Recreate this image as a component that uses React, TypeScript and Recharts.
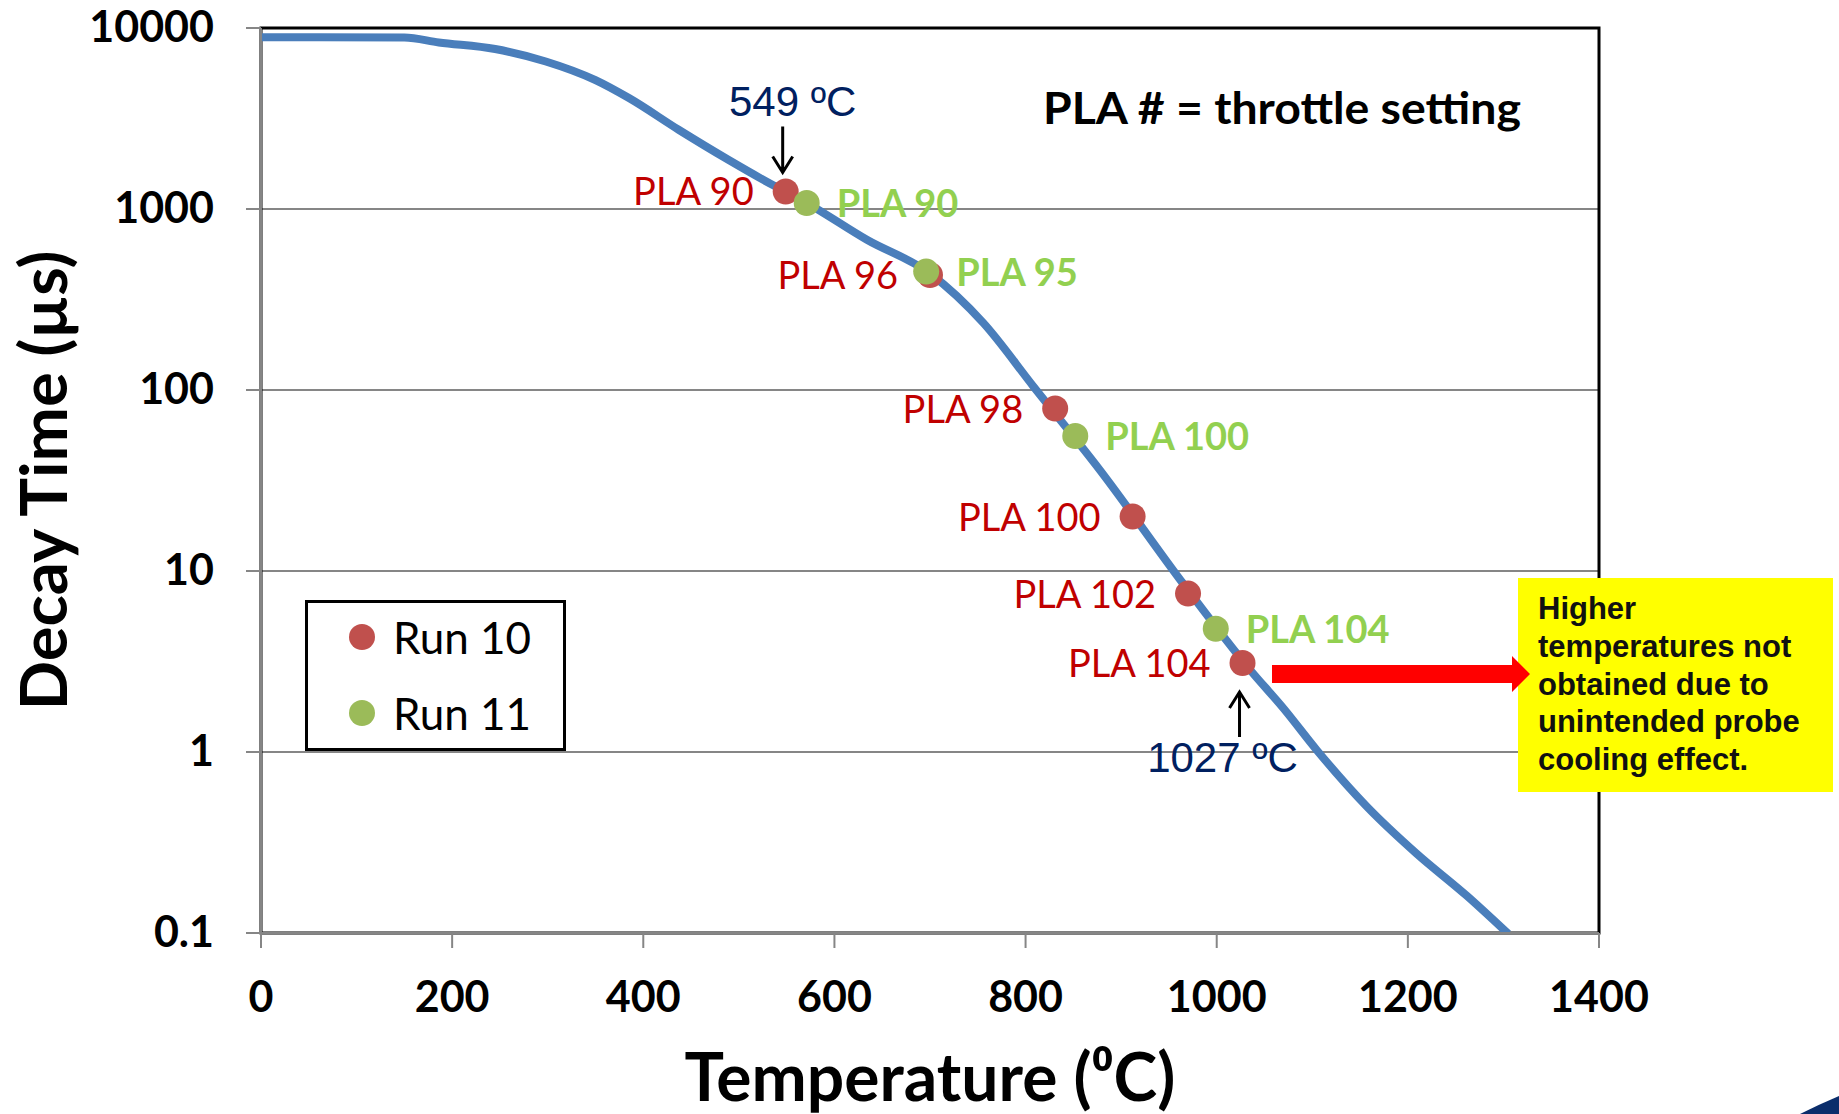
import {
  ComposedChart,
  Line,
  Scatter,
  XAxis,
  YAxis,
  CartesianGrid,
  ReferenceArea,
  ReferenceDot,
} from 'recharts';

// calibration curve
const curveTemps = [0, 150, 186, 245, 298, 350, 385, 437, 489, 535, 571, 634, 700, 756, 808, 878, 965, 1035, 1070, 1105, 1157, 1209, 1262, 1305];
const curveDecay = [8900, 8850, 8320, 7650, 6530, 5150, 4100, 2740, 1870, 1360, 1080, 676, 440, 234, 105, 36, 8.5, 2.84, 1.74, 1.02, 0.5, 0.275, 0.16, 0.099];

const run10Temps = [549, 700, 831, 912, 970, 1027];
const run10Decay = [1250, 432, 79, 20, 7.5, 3.1];
const run10Labels = ['PLA 90', 'PLA 96', 'PLA 98', 'PLA 100', 'PLA 102', 'PLA 104'];

const run11Temps = [571, 696, 852, 999];
const run11Decay = [1080, 451, 55.7, 4.8];
const run11Labels = ['PLA 90', 'PLA 95', 'PLA 100', 'PLA 104'];

const xTicks = [0, 200, 400, 600, 800, 1000, 1200, 1400];
const yTicks = [0.1, 1, 10, 100, 1000, 10000];

const legendNames = ['Run 10', 'Run 11'];
const noteLines = ['Higher', 'temperatures not', 'obtained due to', 'unintended probe', 'cooling effect.'];

const curve = curveTemps.map((t, i) => ({ t, v: curveDecay[i] }));
const run10 = run10Temps.map((t, i) => ({ t, v: run10Decay[i], label: run10Labels[i] }));
const run11 = run11Temps.map((t, i) => ({ t, v: run11Decay[i], label: run11Labels[i] }));

const RED = '#C0504D';
const GREEN = '#9BBB59';
const NAVY = '#002060';
const GRID = '#868686';

const RedDot = (props: any) => {
  const { cx, cy, payload } = props;
  return (
    <g>
      <circle cx={cx} cy={cy} r={13} fill={RED} />
      <text x={cx - 32} y={cy + 14} textAnchor="end" fontFamily="Lato" fontSize={38} fill="#C00000">
        {payload.label}
      </text>
    </g>
  );
};

const GreenDot = (props: any) => {
  const { cx, cy, payload } = props;
  return (
    <g>
      <circle cx={cx} cy={cy} r={13} fill={GREEN} />
      <text x={cx + 30} y={cy + 14} fontFamily="Lato" fontWeight="bold" fontSize={38} fill="#92D050">
        {payload.label}
      </text>
    </g>
  );
};

// "549 oC" above the first point, arrow pointing down
const NoteAbove = (props: any) => {
  const { cx, cy } = props;
  return (
    <g>
      <text x={cx + 7} y={cy - 75} textAnchor="middle" fontFamily="Liberation Sans" fontSize={42} fill={NAVY}>
        549 ºC
      </text>
      <path d={`M${cx - 3},${cy - 65} L${cx - 3},${cy - 19} M${cx - 13},${cy - 35} L${cx - 3},${cy - 19} L${cx + 7},${cy - 35}`} stroke="#000" strokeWidth={3} fill="none" />
    </g>
  );
};

// "1027 oC" below the last point, arrow pointing up
const NoteBelow = (props: any) => {
  const { cx, cy } = props;
  return (
    <g>
      <text x={cx - 20} y={cy + 109} textAnchor="middle" fontFamily="Liberation Sans" fontSize={42} fill={NAVY}>
        1027 ºC
      </text>
      <path d={`M${cx - 3},${cy + 74} L${cx - 3},${cy + 29} M${cx - 13},${cy + 45} L${cx - 3},${cy + 29} L${cx + 7},${cy + 45}`} stroke="#000" strokeWidth={3} fill="none" />
    </g>
  );
};

const XTick = (props: any) => {
  const { x, payload } = props;
  return (
    <text x={x} y={1012} textAnchor="middle" fontFamily="Lato" fontWeight="bold" fontSize={43} fill="#000">
      {payload.value}
    </text>
  );
};

const YTick = (props: any) => {
  const { y, payload } = props;
  return (
    <text x={214} y={y + 14} textAnchor="end" fontFamily="Lato" fontWeight="bold" fontSize={43} fill="#000">
      {payload.value}
    </text>
  );
};

const XTitle = (props: any) => {
  const { viewBox } = props;
  return (
    <text x={viewBox.x + viewBox.width / 2} y={1101} textAnchor="middle" fontFamily="Lato" fontWeight="bold" fontSize={66} fill="#000">
      Temperature (⁰C)
    </text>
  );
};

const YTitle = (props: any) => {
  const { viewBox } = props;
  const cy = viewBox.y + viewBox.height / 2;
  return (
    <text x={42} y={cy} transform={`rotate(-90 42 ${cy})`} textAnchor="middle" dominantBaseline="central" fontFamily="Lato" fontWeight="bold" fontSize={65} fill="#000">
      Decay Time (µs)
    </text>
  );
};

export default function App() {
  return (
    <div style={{ position: 'absolute', left: 0, top: 0, width: 1839, height: 1114, background: '#fff' }}>
      <ComposedChart width={1839} height={1114} margin={{ top: 28, right: 240, bottom: 0, left: 0 }}>
        <CartesianGrid horizontal vertical={false} stroke={GRID} strokeWidth={2} />
        <XAxis
          type="number"
          dataKey="t"
          domain={[0, 1400]}
          ticks={xTicks}
          height={181}
          tickSize={15}
          tick={<XTick />}
          tickLine={{ stroke: GRID, strokeWidth: 2 }}
          axisLine={{ stroke: GRID, strokeWidth: 2 }}
          label={<XTitle />}
          allowDataOverflow
        />
        <YAxis
          type="number"
          scale="log"
          domain={[0.1, 10000]}
          ticks={yTicks}
          width={261}
          tickSize={15}
          tick={<YTick />}
          tickLine={{ stroke: GRID, strokeWidth: 2 }}
          axisLine={{ stroke: GRID, strokeWidth: 2 }}
          label={<YTitle />}
          allowDataOverflow
        />
        <ReferenceArea x1={0} x2={1400} y1={0.1} y2={10000} fill="none" stroke="#000" strokeWidth={3} ifOverflow="visible" />
        <Line data={curve} dataKey="v" type="monotone" stroke="#4A7EBB" strokeWidth={8} dot={false} isAnimationActive={false} />
        <Scatter data={run10} dataKey="v" name="Run 10" fill={RED} shape={<RedDot />} isAnimationActive={false} />
        <Scatter data={run11} dataKey="v" name="Run 11" fill={GREEN} shape={<GreenDot />} isAnimationActive={false} />
        <ReferenceDot x={run10Temps[0]} y={run10Decay[0]} r={0} shape={<NoteAbove />} ifOverflow="visible" />
        <ReferenceDot x={run10Temps[5]} y={run10Decay[5]} r={0} shape={<NoteBelow />} ifOverflow="visible" />
      </ComposedChart>

      {/* legend box */}
      <div style={{ position: 'absolute', left: 305, top: 600, width: 255, height: 145, border: '3px solid #000', background: '#fff', fontFamily: 'Lato', fontSize: 44, color: '#000' }}>
        {legendNames.map((name, i) => (
          <div key={name}>
            <div style={{ position: 'absolute', left: 41, top: 21 + i * 76, width: 26, height: 26, borderRadius: 13, background: i === 0 ? RED : GREEN }} />
            <div style={{ position: 'absolute', left: 85, top: 7 + i * 76, lineHeight: '54px' }}>{name}</div>
          </div>
        ))}
      </div>

      <svg width={1839} height={1114} style={{ position: 'absolute', left: 0, top: 0, pointerEvents: 'none' }}>
        <text x={1043} y={124} fontFamily="Lato" fontWeight="bold" fontSize={43} textLength={478} lengthAdjust="spacingAndGlyphs" fill="#000">
          PLA # = throttle setting
        </text>
        <rect x={1518} y={578} width={315} height={214} fill="#FFFF00" />
        {noteLines.map((s, i) => (
          <text key={s} x={1538} y={619 + i * 37.8} fontFamily="Liberation Sans" fontWeight="bold" fontSize={31} fill="#111">
            {s}
          </text>
        ))}
        <path d="M1272,665 L1512,665 L1512,656 L1530,674 L1512,692 L1512,683 L1272,683 Z" fill="#FF0000" />
        <path d="M1800,1114 Q1820,1104 1839,1096 L1839,1114 Z" fill="#0B2D6B" />
      </svg>
    </div>
  );
}
